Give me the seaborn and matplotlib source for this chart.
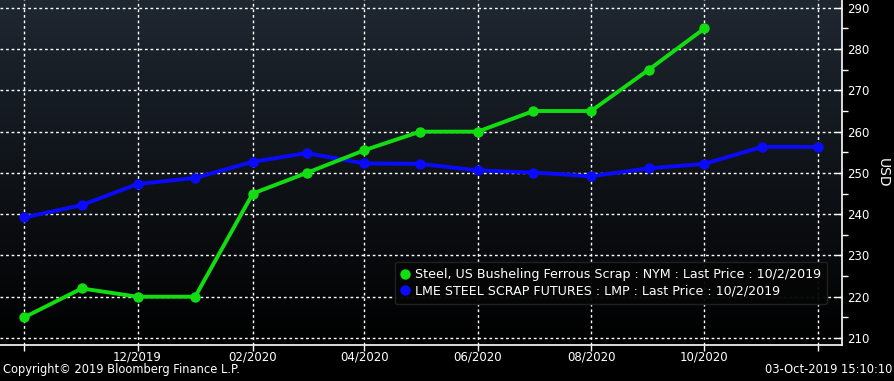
import numpy as np
import pandas as pd
import seaborn as sns
import matplotlib.pyplot as plt
import matplotlib.dates as mdates
from matplotlib.ticker import MultipleLocator
from matplotlib.colors import LinearSegmentedColormap

# monthly contract prices, USD
months = pd.date_range("2019-10-01", "2020-12-01", freq="MS")
steel_us = [215, 222, 220, 220, 245, 250, 255.5, 260, 260, 265, 265, 275, 285]
lme_scrap = [239.2, 242.2, 247.3, 248.8, 252.7, 254.8, 252.3, 252.2, 250.6,
             250.1, 249.2, 251.1, 252.2, 256.3, 256.3]

steel_label = "Steel, US Busheling Ferrous Scrap : NYM : Last Price : 10/2/2019"
lme_label = "LME STEEL SCRAP FUTURES : LMP : Last Price : 10/2/2019"

df_steel = pd.DataFrame({"date": months[:len(steel_us)], "price": steel_us})
df_lme = pd.DataFrame({"date": months[:len(lme_scrap)], "price": lme_scrap})

sns.set_style("dark")
plt.rcParams["font.family"] = ["DejaVu Sans"]

fig = plt.figure(figsize=(8.95, 3.81), dpi=100, facecolor="black")
ax = fig.add_axes([0.0, 1 - 345 / 381, 842 / 895, 345 / 381])

# gradient background
xlim = (mdates.date2num(pd.Timestamp("2019-09-18")), mdates.date2num(pd.Timestamp("2020-12-14")))
ylim = (208.3, 291.9)
grad = np.linspace(1, 0, 256).reshape(-1, 1)
cmap = LinearSegmentedColormap.from_list("bg", ["#000000", "#1f2731"])
ax.imshow(grad, aspect="auto", cmap=cmap, extent=[xlim[0], xlim[1], ylim[0], ylim[1]],
          origin="upper", zorder=0)

sns.lineplot(data=df_lme, x="date", y="price", ax=ax, color="#0a0aff", lw=2.8,
             marker="o", markersize=7.5, markeredgewidth=0, label=lme_label, zorder=3)
sns.lineplot(data=df_steel, x="date", y="price", ax=ax, color="#11dd11", lw=2.8,
             marker="o", markersize=7.5, markeredgewidth=0, label=steel_label, zorder=4)

ax.set_xlim(*xlim)
ax.set_ylim(*ylim)
ax.set_facecolor("black")

ax.xaxis.set_major_locator(mdates.MonthLocator(bymonth=[2, 4, 6, 8, 10, 12]))
ax.xaxis.set_major_formatter(mdates.DateFormatter("%m/%Y"))
ax.yaxis.tick_right()
ax.yaxis.set_label_position("right")
ax.yaxis.set_major_locator(MultipleLocator(10))
ax.yaxis.set_minor_locator(MultipleLocator(5))

ax.grid(True, which="major", color="white", linestyle=(0, (2, 2)), linewidth=1)
ax.tick_params(axis="x", colors="white", labelsize=8.5, length=4, width=1,
               direction="out", bottom=True, pad=0)
ax.tick_params(axis="y", which="major", colors="white", labelsize=8.5, length=5, width=1,
               direction="in", right=True, left=False, pad=4)
ax.tick_params(axis="y", which="minor", colors="white", length=4, width=1,
               direction="out", right=True, left=False)

# hide first/last x labels (10/2019 and 12/2020)
fig.canvas.draw()
for lbl in ax.get_xticklabels():
    if lbl.get_text() in ("10/2019", "12/2020"):
        lbl.set_visible(False)

ax.set_xlabel("")
ax.set_ylabel("USD", color="white", fontsize=10, rotation=270, labelpad=14)

for side in ["top", "left"]:
    ax.spines[side].set_visible(False)
for side in ["right", "bottom"]:
    ax.spines[side].set_visible(True)
    ax.spines[side].set_color("white")
    ax.spines[side].set_linewidth(1.2)

handles, labels = ax.get_legend_handles_labels()
order = [labels.index(steel_label), labels.index(lme_label)]
leg = ax.legend([handles[i] for i in order], [labels[i] for i in order],
                loc="lower right", bbox_to_anchor=(0.99, 0.1), fontsize=9.1,
                frameon=True, facecolor="#050505", edgecolor="#222222", framealpha=0.95,
                handlelength=0.6, handletextpad=0.5, labelspacing=0.3, borderpad=0.5,
                fancybox=True)
for h in leg.legend_handles:
    h.set_linestyle("none")
    h.set_marker("o")
for t in leg.get_texts():
    t.set_color("white")

fig.text(0.003, 0.022, "Copyright\u00a9 2019 Bloomberg Finance L.P.", color="white", fontsize=8.3)
fig.text(0.997, 0.022, "03-Oct-2019 15:10:10", color="white", fontsize=8.3, ha="right")

fig.savefig("out.png", dpi=100, facecolor="black")
